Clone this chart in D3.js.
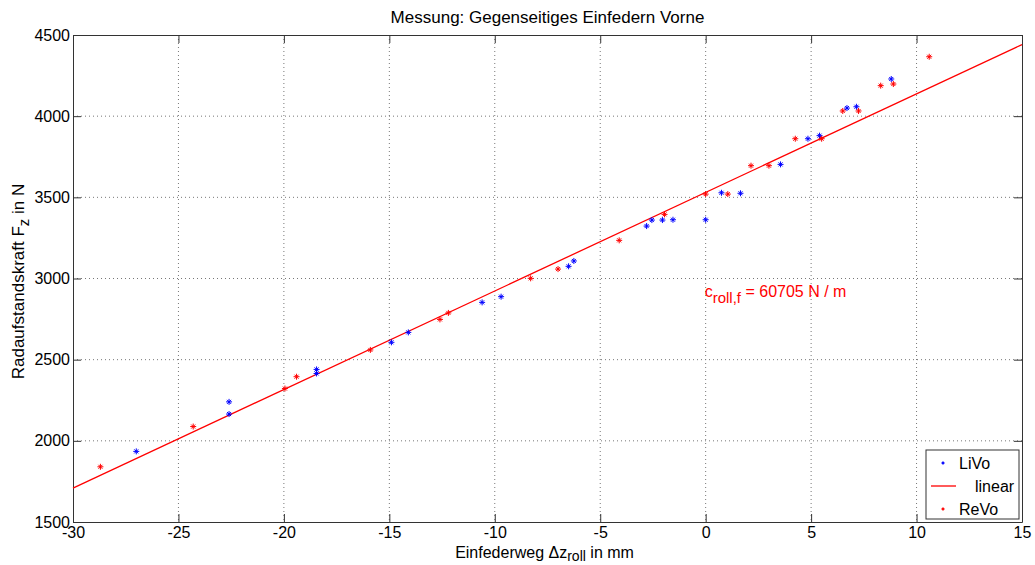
<!DOCTYPE html>
<html>
<head>
<meta charset="utf-8">
<script src="https://cdn.jsdelivr.net/npm/d3@7"></script>
<style>
  body { margin: 0; background: #fff; }
  svg { display: block; font-family: "Liberation Sans", Arial, sans-serif; }
  .grid line { stroke: #777; stroke-dasharray: 1 3; }
</style>
</head>
<body>
<svg id="chart" width="1035" height="565"></svg>
<script>
// LiVo measurements (Einfederweg in mm, Fz in N)
const livoX = [-27.0, -22.6, -22.6, -18.45, -18.45, -14.9, -14.1, -10.6, -9.7, -6.5, -6.25, -2.8, -2.55, -2.05, -1.55, 0.0, 0.75, 1.65, 3.55, 4.85, 5.4, 6.7, 7.15, 8.8];
const livoY = [1935, 2240, 2165, 2440, 2415, 2607, 2668, 2853, 2888, 3075, 3108, 3323, 3360, 3360, 3362, 3362, 3528, 3525, 3703, 3861, 3880, 4050, 4058, 4229];

// ReVo measurements
const revoX = [-28.7, -24.3, -19.95, -19.4, -15.9, -12.6, -12.2, -8.3, -7.0, -4.1, -1.95, 0.0, 1.05, 2.15, 3.0, 4.25, 5.5, 6.5, 7.25, 8.3, 8.9, 10.6];
const revoY = [1840, 2088, 2322, 2395, 2560, 2748, 2788, 3001, 3058, 3235, 3395, 3520, 3520, 3695, 3695, 3861, 3861, 4032, 4032, 4188, 4198, 4366];

// linear fit, c = 60705 N/m
const fitX = [-30, 15];
const fitY = [1709, 4441];

const xTicks = [-30, -25, -20, -15, -10, -5, 0, 5, 10, 15];
const yTicks = [1500, 2000, 2500, 3000, 3500, 4000, 4500];

const svg = d3.select("#chart");
const margin = { top: 35, right: 13, bottom: 43, left: 73 };
const width = 1035 - margin.left - margin.right;
const height = 565 - margin.top - margin.bottom;

const g = svg.append("g").attr("transform", `translate(${margin.left},${margin.top})`);

const x = d3.scaleLinear().domain([-30, 15]).range([0, width]);
const y = d3.scaleLinear().domain([1500, 4500]).range([height, 0]);

const fmt = d => String(d);

// grid
g.append("g").attr("class", "grid")
  .selectAll("line").data(xTicks.slice(1, -1)).join("line")
  .attr("x1", d => x(d)).attr("x2", d => x(d))
  .attr("y1", 0).attr("y2", height);
g.append("g").attr("class", "grid")
  .selectAll("line").data(yTicks.slice(1, -1)).join("line")
  .attr("y1", d => y(d)).attr("y2", d => y(d))
  .attr("x1", 0).attr("x2", width);

// axes, MATLAB style (ticks inside, box all round)
const axStyle = sel => {
  sel.selectAll("path, line").attr("stroke", "#333");
  sel.selectAll("text").attr("fill", "#000").style("font-size", "16px");
};
g.append("g").attr("transform", `translate(0,${height})`)
  .call(d3.axisBottom(x).tickValues(xTicks).tickSize(-8).tickSizeOuter(0).tickPadding(5).tickFormat(fmt))
  .call(axStyle);
g.append("g")
  .call(d3.axisLeft(y).tickValues(yTicks).tickSize(-8).tickSizeOuter(0).tickPadding(3).tickFormat(fmt))
  .call(axStyle);
g.append("g")
  .call(d3.axisTop(x).tickValues(xTicks).tickSize(-8).tickSizeOuter(0).tickFormat(""))
  .call(axStyle);
g.append("g").attr("transform", `translate(${width},0)`)
  .call(d3.axisRight(y).tickValues(yTicks).tickSize(-8).tickSizeOuter(0).tickFormat(""))
  .call(axStyle);
g.selectAll(".domain").attr("stroke", "#333");

// fit line
const line = d3.line().x(d => x(d[0])).y(d => y(d[1]));
g.append("path")
  .datum(d3.zip(fitX, fitY))
  .attr("fill", "none")
  .attr("stroke", "#f00")
  .attr("stroke-width", 1.3)
  .attr("d", line);

// asterisk marker
const star = "M-3,0H3M0,-3V3M-2,-2L2,2M-2,2L2,-2";
function drawPoints(xs, ys, color) {
  g.append("g").selectAll("path").data(d3.zip(xs, ys)).join("path")
    .attr("transform", d => `translate(${x(d[0])},${y(d[1])})`)
    .attr("d", star)
    .attr("fill", "none")
    .attr("stroke", color)
    .attr("stroke-width", 1);
}
drawPoints(livoX, livoY, "#00f");
drawPoints(revoX, revoY, "#f00");

// annotation
const ann = g.append("text")
  .attr("x", x(0) - 1).attr("y", y(2885))
  .attr("fill", "#f00").style("font-size", "16px");
ann.append("tspan").text("c");
ann.append("tspan").attr("dy", 6).style("font-size", "15px").text("roll,f");
ann.append("tspan").attr("dy", -6).text(" = 60705 N / m");

// title
svg.append("text")
  .attr("x", margin.left + width / 2).attr("y", 23)
  .attr("text-anchor", "middle")
  .style("font-size", "17px")
  .text("Messung: Gegenseitiges Einfedern Vorne");

// axis labels
const xl = svg.append("text")
  .attr("x", margin.left + width / 2 - 3).attr("y", 558)
  .attr("text-anchor", "middle")
  .style("font-size", "16px");
xl.append("tspan").text("Einfederweg \u0394z");
xl.append("tspan").attr("dy", 3).style("font-size", "14px").text("roll");
xl.append("tspan").attr("dy", -3).text(" in mm");

const yl = svg.append("text")
  .attr("transform", `translate(24,${margin.top + height / 2 + 3}) rotate(-90)`)
  .attr("text-anchor", "middle")
  .style("font-size", "17px");
yl.append("tspan").text("Radaufstandskraft F");
yl.append("tspan").attr("dy", 5).style("font-size", "15px").text("z");
yl.append("tspan").attr("dy", -5).text(" in N");

// legend
const lg = svg.append("g").attr("transform", "translate(926,450)");
lg.append("rect").attr("width", 93).attr("height", 69)
  .attr("fill", "#fff").attr("stroke", "#333");
const entries = [
  { label: "LiVo", color: "#00f", kind: "dot", tx: 33 },
  { label: "linear", color: "#f00", kind: "line", tx: 49 },
  { label: "ReVo", color: "#f00", kind: "dot", tx: 33 }
];
entries.forEach((e, i) => {
  const cy = 13 + i * 23;
  if (e.kind === "line") {
    lg.append("line").attr("x1", 5).attr("x2", 30).attr("y1", cy).attr("y2", cy)
      .attr("stroke", e.color).attr("stroke-width", 1.3);
  } else {
    lg.append("path").attr("transform", `translate(17,${cy})`)
      .attr("d", "M-1.5,0H1.5M0,-1.5V1.5").attr("stroke", e.color).attr("stroke-width", 1.5);
  }
  lg.append("text").attr("x", e.tx).attr("y", cy + 6)
    .style("font-size", "16px").text(e.label);
});
</script>
</body>
</html>
